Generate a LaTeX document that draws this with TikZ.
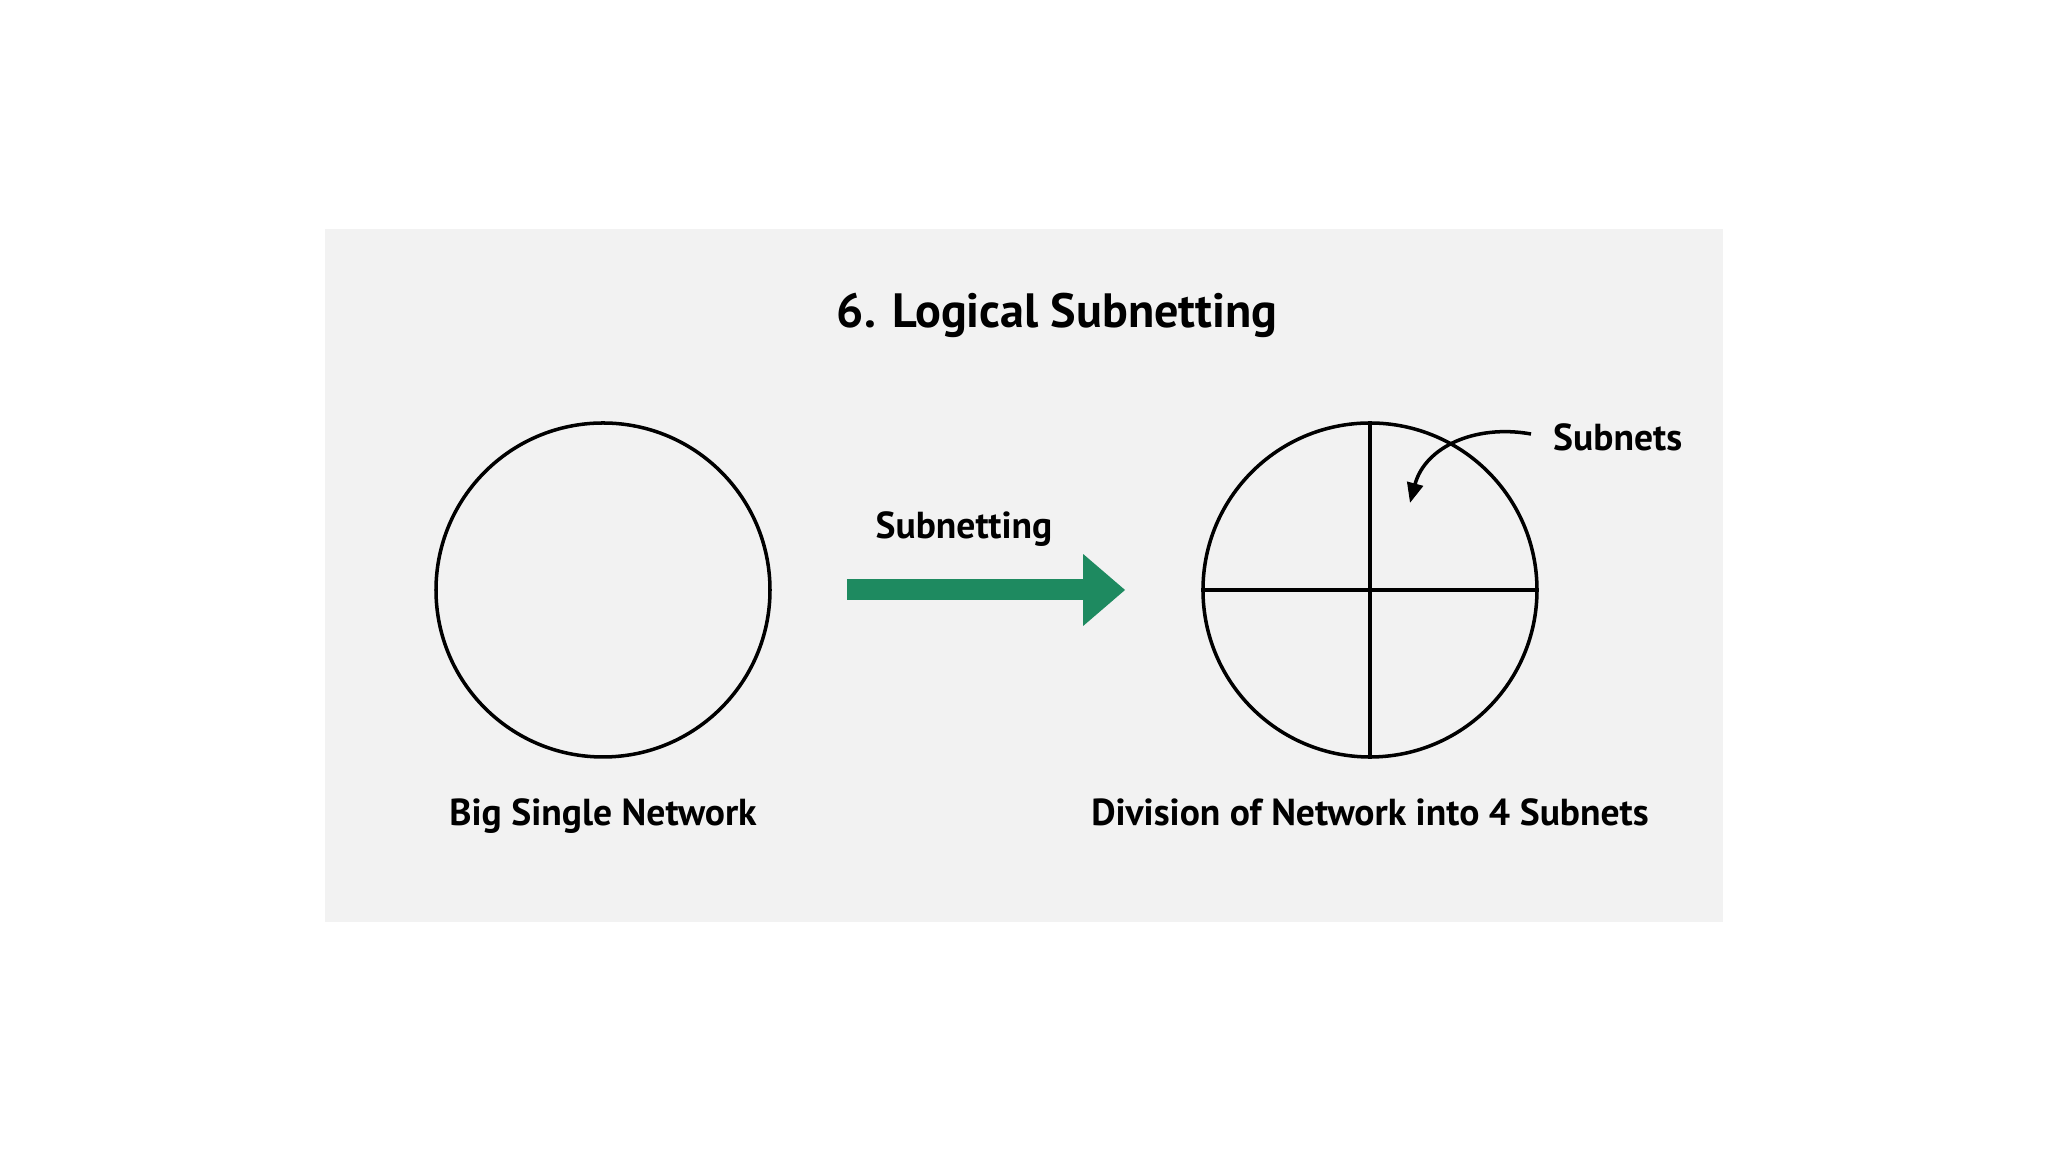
\documentclass[tikz,border=0pt]{standalone}
\usepackage{fontspec}
\setmainfont{PT Sans}
\usetikzlibrary{arrows.meta, positioning}
\definecolor{panelgrey}{RGB}{242, 242, 242}
\definecolor{subgreen}{RGB}{30, 138, 96}

\begin{document}
\begin{tikzpicture}[
        net/.style={draw, circle, line width=1pt, minimum size=3.34cm, inner sep=0pt},
        lbl/.style={font=\bfseries\fontsize{10.7}{13}\selectfont, inner sep=1pt},
        bigarr/.style={-{Triangle[length=0.42cm, width=0.69cm]}, line width=0.21cm, subgreen},
        ptr/.style={-{Triangle[length=0.2cm, width=0.16cm]}, line width=1pt}
      ]
        \useasboundingbox (0,0) rectangle (20.48,11.52);
        \fill[white] (0,0) rectangle (20.48,11.52);
        \fill[panelgrey] (3.25,2.30) rectangle (17.23,9.23);

        \node[font=\bfseries\fontsize{13.7}{16}\selectfont] (title) at (10.57,8.37)
              {6. Logical Subnetting};

        \node[net] (bignet) at (6.03,5.62) {};
        \node[net] (subnet) at (13.70,5.62) {};
        \draw[line width=1pt] (subnet.north) -- (subnet.south);
        \draw[line width=1pt] (subnet.west) -- (subnet.east);

        \node[lbl, below=0.36cm of bignet] (biglbl) {Big Single Network};
        \node[lbl, below=0.36cm of subnet] (divlbl) {Division of Network into 4 Subnets};

        \draw[bigarr, shorten <=0.75cm, shorten >=0.76cm] (bignet.east) -- (subnet.west);
        \node[lbl] (arrlbl) at (9.64,6.23) {Subnetting};

        \node[lbl, anchor=west] (sublbl) at (15.49,7.15) {Subnets};
        \coordinate (quad) at (14.10,6.49);
        \path (sublbl.west) ++(-0.18,0.03) coordinate (ptrstart);
        \draw[ptr] (ptrstart) .. controls (14.75,7.28) and (14.25,7.05) .. (quad);
      \end{tikzpicture}
\end{document}
